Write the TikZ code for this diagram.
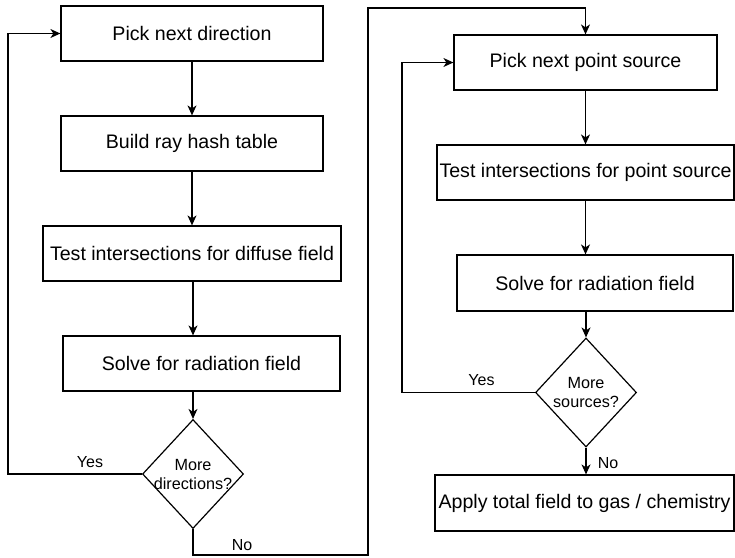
\documentclass[tikz,border=0pt]{standalone}
\usepackage{fontspec}
\setmainfont{Liberation Sans}
\usetikzlibrary{shapes.geometric,arrows.meta,calc}
\tikzset{
  procbox/.style={draw, line width=1.2pt, rectangle, inner sep=0pt, font=\fontsize{19.6}{23}\selectfont},
  decbox/.style={draw, line width=1.2pt, diamond, inner sep=-8pt, minimum width=101pt, minimum height=109pt, aspect=0.93, align=center, font=\fontsize{16.2}{19}\selectfont},
  flow/.style={line width=1.2pt, -{Stealth[length=10pt,width=9pt,inset=3pt]}},
  lbl/.style={font=\fontsize{16}{19}\selectfont, inner sep=0pt}
}
\begin{document}
\begin{tikzpicture}[x=1pt,y=-1pt]
\useasboundingbox (0,0) rectangle (735,557);
% left column
\node[procbox, minimum width=262pt, minimum height=55pt] (b1) at (192,33.5) {Pick next direction};
\node[procbox, minimum width=262pt, minimum height=55pt] (b2) at (192,143.5) {Build ray hash table};
\node[procbox, minimum width=298pt, minimum height=55pt] (b3) at (192,253.5) {Test intersections for diffuse field};
\node[procbox, minimum width=277pt, minimum height=55pt] (b4) at (201.5,363.5) {Solve for radiation field};
\node[decbox] (d1) at (193,474) {More\\directions?};
% right column
\node[procbox, minimum width=263pt, minimum height=55pt] (b5) at (585.5,62.5) {Pick next point source};
\node[procbox, minimum width=297pt, minimum height=55pt] (b6) at (585.5,172.5) {Test intersections for point source};
\node[procbox, minimum width=276pt, minimum height=56pt] (b7) at (595,283) {Solve for radiation field};
\node[decbox] (d2) at (586,392.5) {More\\sources?};
\node[procbox, minimum width=299pt, minimum height=56pt] (b8) at (584.5,503) {Apply total field to gas / chemistry};
% helper coordinates
\coordinate (lx1) at (8,0);
\coordinate (lx2) at (402,0);
\coordinate (n1) at (368,555);
\coordinate (n2) at (368,8);
% left connectors
\draw[flow] (b1.south) -- (b1.south |- b2.north);
\draw[flow] (b2.south) -- (b2.south |- b3.north);
\draw[flow] (b3.south -| d1.north) -- (d1.north |- b4.north);
\draw[flow] (d1.north |- b4.south) -- (d1.north);
\draw[flow] (d1.west) -- (d1.west -| lx1) |- (b1.west);
\draw[flow] (d1.south) |- (n1) -- (n2) -| (b5.north);
% right connectors
\draw[flow] (b5.south) -- (b5.south |- b6.north);
\draw[flow] (b6.south) -- (b6.south |- b7.north);
\draw[flow] (d2.north |- b7.south) -- (d2.north);
\draw[flow] (d2.south) -- (d2.south |- b8.north);
\draw[flow] (d2.west) -- (d2.west -| lx2) |- (b5.west);
% labels
\node[lbl] (y1) at (90,462) {Yes};
\node[lbl] (no1) at (242,545) {No};
\node[lbl] (y2) at (481.5,380) {Yes};
\node[lbl] (no2) at (608,463) {No};
\end{tikzpicture}
\end{document}
